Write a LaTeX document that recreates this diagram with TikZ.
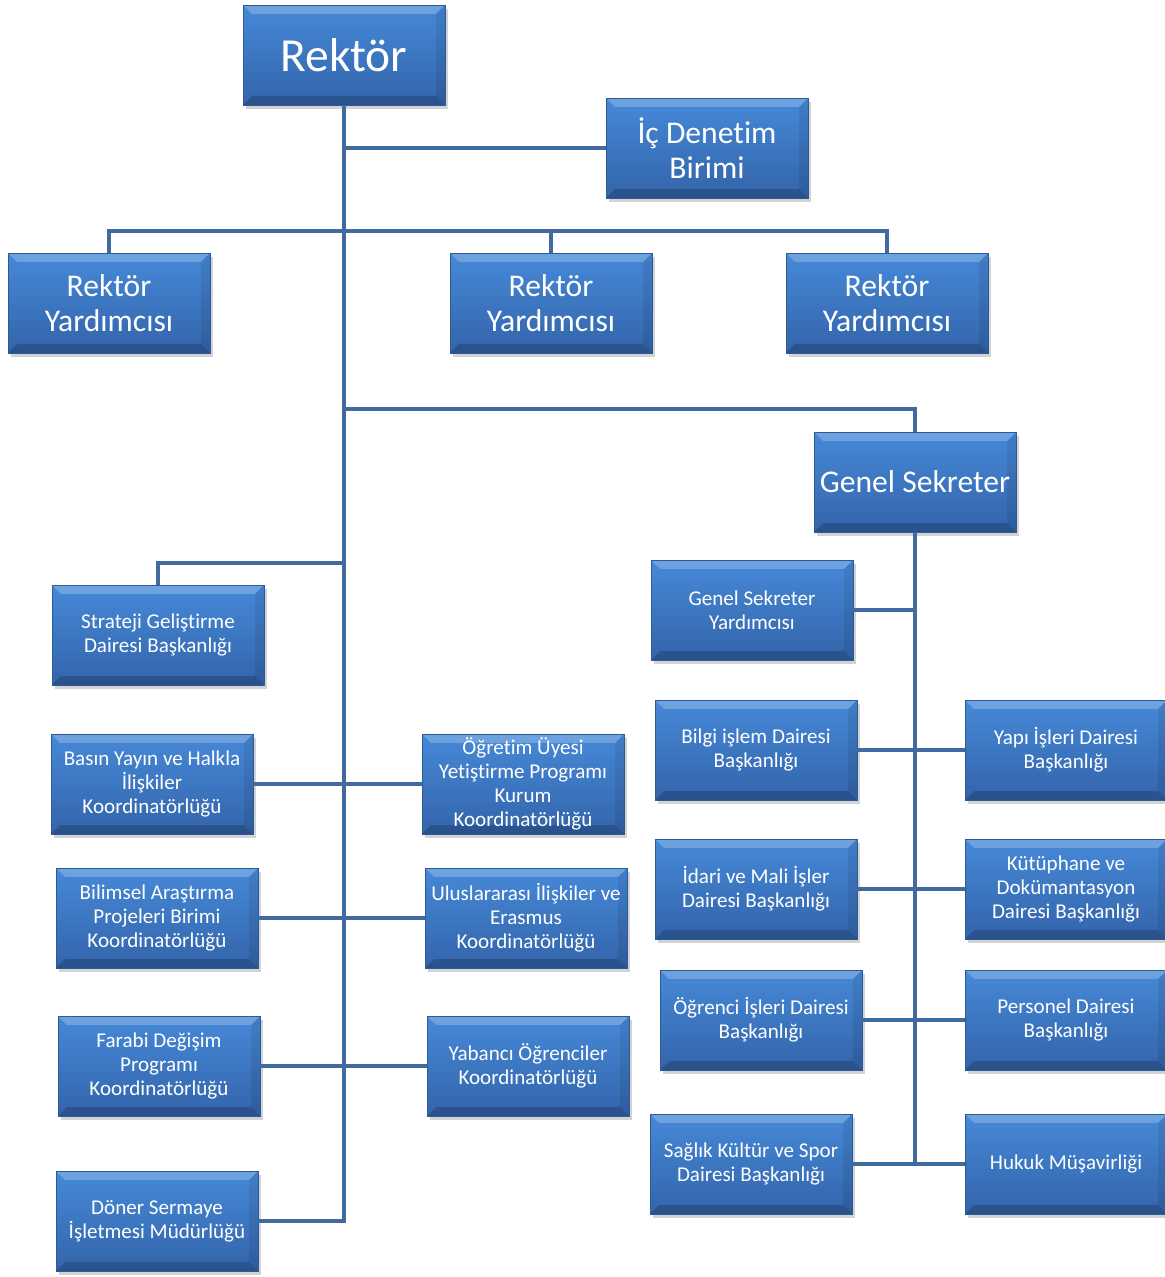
\documentclass[tikz,border=0pt]{standalone}
\usepackage{fontspec}
\setmainfont{Carlito}[RawFeature={-liga}]
\usetikzlibrary{shadows}
\definecolor{boxtop}{HTML}{4689D8}
\definecolor{boxbot}{HTML}{3364AA}
\definecolor{boxline}{HTML}{2D5A96}
\definecolor{linkcol}{HTML}{416A9E}
\begin{document}
\begin{tikzpicture}[
		x=0.02cm, y=-0.02cm,
		box/.style={rectangle, draw=boxline, line width=0.4pt, top color=boxtop, bottom color=boxbot,
			text=white, align=center, minimum width=4.04cm, minimum height=2cm, inner sep=2pt,
			font=\fontsize{12}{13.6}\selectfont,
			drop shadow={opacity=0.35, shadow xshift=0.06cm, shadow yshift=-0.08cm},
			path picture={
				\fill[white, opacity=0.22] (path picture bounding box.north west) -- (path picture bounding box.north east)
					-- ([xshift=-5pt, yshift=-5pt]path picture bounding box.north east) -- ([xshift=5pt, yshift=-5pt]path picture bounding box.north west) -- cycle;
				\fill[black, opacity=0.18] (path picture bounding box.south west) -- (path picture bounding box.south east)
					-- ([xshift=-5pt, yshift=5pt]path picture bounding box.south east) -- ([xshift=5pt, yshift=5pt]path picture bounding box.south west) -- cycle;
				\fill[black, opacity=0.08] (path picture bounding box.north east) -- (path picture bounding box.south east)
					-- ([xshift=-5pt, yshift=5pt]path picture bounding box.south east) -- ([xshift=-5pt, yshift=-5pt]path picture bounding box.north east) -- cycle;
			}},
		big/.style={box, font=\fontsize{18}{20}\selectfont},
		link/.style={draw=linkcol, line width=2.6pt},
	]
	\useasboundingbox (0,0) rectangle (1164,1277);
	\node[box, font=\fontsize{27}{30}\selectfont] (rektor) at (344,55) {Rektör};
	\node[big] (icdenetim) at (707,148) {İç Denetim\\Birimi};
	\node[big] (ry1) at (109,303) {Rektör\\Yardımcısı};
	\node[big] (ry2) at (551,303) {Rektör\\Yardımcısı};
	\node[big] (ry3) at (887,303) {Rektör\\Yardımcısı};
	\node[big] (genel) at (915,482) {Genel Sekreter};
	\node[box, minimum width=4.24cm] (strateji) at (158,635) {Strateji Geliştirme\\Dairesi Başkanlığı};
	\node[box] (basin) at (152,784) {Basın Yayın ve Halkla\\İlişkiler\\Koordinatörlüğü};
	\node[box] (ogretim) at (523,784) {Öğretim Üyesi\\Yetiştirme Programı\\Kurum\\Koordinatörlüğü};
	\node[box] (bilimsel) at (157,918) {Bilimsel Araştırma\\Projeleri Birimi\\Koordinatörlüğü};
	\node[box] (uluslar) at (526,918) {Uluslararası İlişkiler ve\\Erasmus\\Koordinatörlüğü};
	\node[box] (farabi) at (159,1066) {Farabi Değişim\\Programı\\Koordinatörlüğü};
	\node[box] (yabanci) at (528,1066) {Yabancı Öğrenciler\\Koordinatörlüğü};
	\node[box] (doner) at (157,1221) {Döner Sermaye\\İşletmesi Müdürlüğü};
	\node[box] (gsy) at (752,610) {Genel Sekreter\\Yardımcısı};
	\node[box] (bilgi) at (756,750) {Bilgi işlem Dairesi\\Başkanlığı};
	\node[box] (yapi) at (1066,750) {Yapı İşleri Dairesi\\Başkanlığı};
	\node[box] (idari) at (756,889) {İdari ve Mali İşler\\Dairesi Başkanlığı};
	\node[box] (kutuphane) at (1066,889) {Kütüphane ve\\Dokümantasyon\\Dairesi Başkanlığı};
	\node[box] (ogrenci) at (761,1020) {Öğrenci İşleri Dairesi\\Başkanlığı};
	\node[box] (personel) at (1066,1020) {Personel Dairesi\\Başkanlığı};
	\node[box] (saglik) at (751,1164) {Sağlık Kültür ve Spor\\Dairesi Başkanlığı};
	\node[box] (hukuk) at (1066,1164) {Hukuk Müşavirliği};
	\coordinate (ryline) at (344,231);
	\coordinate (gsline) at (344,409);
	\coordinate (sgline) at (344,563);
	\draw[link] (rektor.south) |- (doner.east);
	\draw[link] (rektor.south |- icdenetim.west) -- (icdenetim.west);
	\draw[link] (ry1.north) |- (ryline) -| (ry3.north);
	\draw[link] (ryline -| ry2.north) -- (ry2.north);
	\draw[link] (gsline) -| (genel.north);
	\draw[link] (sgline) -| (strateji.north);
	\draw[link] (basin.east) -- (ogretim.west);
	\draw[link] (bilimsel.east) -- (uluslar.west);
	\draw[link] (farabi.east) -- (yabanci.west);
	\draw[link] (genel.south) |- (hukuk.west);
	\draw[link] (gsy.east) -- (gsy.east -| genel.south);
	\draw[link] (bilgi.east) -- (yapi.west);
	\draw[link] (idari.east) -- (kutuphane.west);
	\draw[link] (ogrenci.east) -- (personel.west);
	\draw[link] (saglik.east) -- (hukuk.west);
\end{tikzpicture}
\end{document}
